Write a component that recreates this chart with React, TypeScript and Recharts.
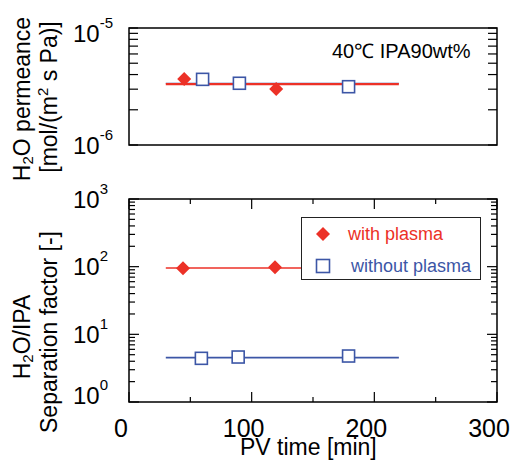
import { ComposedChart, Line, Scatter, XAxis, YAxis, ReferenceArea, Legend } from 'recharts'

const FONT = '"Liberation Sans", Arial, Helvetica, sans-serif'
const RED = '#ec3127'
const BLUE = '#3c56a6'

// PV time [min]
const timeTicks = [0, 50, 100, 150, 200, 250, 300]
const timeLabels = [0, 100, 200, 300]

// y ticks (log)
const permTicks = [1e-6, 2e-6, 3e-6, 4e-6, 5e-6, 6e-6, 7e-6, 8e-6, 9e-6, 1e-5]
const sepTicks = [
  1, 2, 3, 4, 5, 6, 7, 8, 9, 10, 20, 30, 40, 50, 60, 70, 80, 90, 100, 200, 300, 400, 500, 600,
  700, 800, 900, 1000,
]

// H2O permeance [mol/(m2 s Pa)]
const permWithPlasma = [
  { t: 45, v: 3.66e-6 },
  { t: 120, v: 3.01e-6 },
]
const permWithoutPlasma = [
  { t: 60, v: 3.64e-6 },
  { t: 90, v: 3.37e-6 },
  { t: 179, v: 3.15e-6 },
]
const permFitWith = [
  { t: 30, v: 3.32e-6 },
  { t: 220, v: 3.32e-6 },
]
const permFitWithout = [
  { t: 30, v: 3.37e-6 },
  { t: 220, v: 3.37e-6 },
]

// H2O/IPA separation factor [-]
const sepWithPlasma = [
  { t: 44, v: 94.5 },
  { t: 119, v: 98 },
]
const sepWithoutPlasma = [
  { t: 59, v: 4.42 },
  { t: 89, v: 4.62 },
  { t: 179, v: 4.78 },
]
const sepFitWith = [
  { t: 30, v: 95.5 },
  { t: 220, v: 95.5 },
]
const sepFitWithout = [
  { t: 30, v: 4.52 },
  { t: 220, v: 4.52 },
]

const legendItems = [
  { name: 'with plasma', color: RED, marker: 'diamond' },
  { name: 'without plasma', color: BLUE, marker: 'square' },
]

const W = 513
const H = 461
const PLOT_LEFT = 129
const PLOT_RIGHT = 497
const TOP_PANEL = { top: 28, bottom: 145 }
const BOTTOM_PANEL = { top: 199, bottom: 402 }

function Diamond({ cx, cy, fill }: any) {
  const r = 7
  return <path d={`M${cx},${cy - r}L${cx + r},${cy}L${cx},${cy + r}L${cx - r},${cy}Z`} fill={fill} />
}

function Square({ cx, cy, stroke }: any) {
  const s = 6
  return (
    <rect x={cx - s} y={cy - s} width={2 * s} height={2 * s} fill="#fff" stroke={stroke} strokeWidth={1.6} />
  )
}

function TimeTick({ x, payload, panel, showLabel }: any) {
  const major = payload.value % 100 === 0
  const len = major ? 10 : 5
  return (
    <g>
      <line x1={x} x2={x} y1={panel.bottom} y2={panel.bottom - len} stroke="#000" strokeWidth={1.2} />
      <line x1={x} x2={x} y1={panel.top} y2={panel.top + len} stroke="#000" strokeWidth={1.2} />
      {showLabel && timeLabels.includes(payload.value) && (
        <text x={x - 8} y={437} textAnchor="middle" fontSize={25} fontFamily={FONT} fill="#000">
          {payload.value}
        </text>
      )}
    </g>
  )
}

function LogTick({ y, payload, majorLen, minorLen, nudge }: any) {
  const lg = Math.log10(payload.value)
  const exp = Math.round(lg)
  const major = Math.abs(lg - exp) < 1e-6
  const len = major ? majorLen : minorLen
  const dy = nudge[exp] ?? 0
  return (
    <g>
      <line x1={PLOT_LEFT} x2={PLOT_LEFT + len} y1={y} y2={y} stroke="#000" strokeWidth={1.2} />
      <line x1={PLOT_RIGHT} x2={PLOT_RIGHT - len} y1={y} y2={y} stroke="#000" strokeWidth={1.2} />
      {major && (
        <text x={73} y={y + 8.5 + dy} fontSize={24} fontFamily={FONT} fill="#000">
          <tspan>10</tspan>
          <tspan dy={-14} fontSize={15}>
            {String(exp)}
          </tspan>
        </text>
      )}
    </g>
  )
}

function LegendBox() {
  return (
    <div
      style={{
        width: 180,
        height: 63,
        boxSizing: 'border-box',
        border: '1.5px solid #222',
        background: '#fff',
        fontFamily: FONT,
        fontSize: 18,
        position: 'relative',
      }}
    >
      {legendItems.map((it, i) => (
        <div
          key={it.name}
          style={{ position: 'absolute', left: 0, top: i === 0 ? 4 : 36, height: 24, display: 'flex', alignItems: 'center' }}
        >
          <svg width={16} height={16} style={{ marginLeft: 13 }}>
            {it.marker === 'diamond' ? (
              <Diamond cx={8} cy={8} fill={it.color} />
            ) : (
              <rect x={1.5} y={1.5} width={13} height={13} fill="#fff" stroke={it.color} strokeWidth={1.6} />
            )}
          </svg>
          <span style={{ color: it.color, marginLeft: i === 0 ? 17 : 20, whiteSpace: 'nowrap' }}>{it.name}</span>
        </div>
      ))}
    </div>
  )
}

const titleStyle = { fontSize: 23, fontFamily: FONT, fill: '#000' }

export default function App() {
  return (
    <div style={{ position: 'absolute', left: 0, top: 0, width: W, height: H, background: '#fff' }}>
      <div style={{ position: 'absolute', left: 0, top: 0 }}>
        <ComposedChart
          width={W}
          height={H}
          margin={{ top: TOP_PANEL.top, right: W - PLOT_RIGHT, bottom: H - TOP_PANEL.bottom, left: 0 }}
        >
          <XAxis
            dataKey="t"
            type="number"
            domain={[0, 300]}
            ticks={timeTicks}
            interval={0}
            allowDataOverflow
            height={0}
            axisLine={false}
            tickLine={false}
            tick={(p: any) => <TimeTick {...p} panel={TOP_PANEL} showLabel={false} />}
          />
          <YAxis
            type="number"
            scale="log"
            domain={[1e-6, 1e-5]}
            ticks={permTicks}
            interval={0}
            allowDataOverflow
            width={PLOT_LEFT}
            axisLine={false}
            tickLine={false}
            tick={(p: any) => <LogTick {...p} majorLen={9} minorLen={9} nudge={{ [-5]: 5 }} />}
          />
          <ReferenceArea x1={0} x2={300} y1={1e-6} y2={1e-5} fill="none" stroke="#000" strokeWidth={1.5} ifOverflow="visible" />
          <Line data={permFitWithout} dataKey="v" stroke={BLUE} strokeWidth={1.2} dot={false} activeDot={false} isAnimationActive={false} />
          <Scatter data={permWithoutPlasma} dataKey="v" shape={(p: any) => <Square {...p} stroke={BLUE} />} isAnimationActive={false} />
          <Line data={permFitWith} dataKey="v" stroke={RED} strokeWidth={2.2} dot={false} activeDot={false} isAnimationActive={false} />
          <Scatter data={permWithPlasma} dataKey="v" shape={(p: any) => <Diamond {...p} fill={RED} />} isAnimationActive={false} />
          <text x={332} y={58} fontSize={20} fontFamily={FONT} fill="#000">
            40℃ IPA90wt%
          </text>
          <text transform="rotate(-90 30 99)" x={30} y={99} textAnchor="middle" style={titleStyle}>
            H<tspan fontSize={15} dy={3}>2</tspan>
            <tspan dy={-3}>O permeance</tspan>
          </text>
          <text transform="rotate(-90 57 97)" x={57} y={97} textAnchor="middle" style={titleStyle}>
            [mol/(m<tspan fontSize={15} dy={-9}>2</tspan>
            <tspan dy={9}> s Pa)]</tspan>
          </text>
        </ComposedChart>
      </div>
      <div style={{ position: 'absolute', left: 0, top: 0 }}>
        <ComposedChart
          width={W}
          height={H}
          margin={{ top: BOTTOM_PANEL.top, right: W - PLOT_RIGHT, bottom: 0, left: 0 }}
        >
          <XAxis
            dataKey="t"
            type="number"
            domain={[0, 300]}
            ticks={timeTicks}
            interval={0}
            allowDataOverflow
            height={H - BOTTOM_PANEL.bottom}
            axisLine={false}
            tickLine={false}
            tick={(p: any) => <TimeTick {...p} panel={BOTTOM_PANEL} showLabel />}
          />
          <YAxis
            type="number"
            scale="log"
            domain={[1, 1000]}
            ticks={sepTicks}
            interval={0}
            allowDataOverflow
            width={PLOT_LEFT}
            axisLine={false}
            tickLine={false}
            tick={(p: any) => <LogTick {...p} majorLen={10} minorLen={6} nudge={{ 0: -7 }} />}
          />
          <ReferenceArea x1={0} x2={300} y1={1} y2={1000} fill="none" stroke="#000" strokeWidth={1.5} ifOverflow="visible" />
          <Line data={sepFitWith} dataKey="v" stroke={RED} strokeWidth={1.6} dot={false} activeDot={false} isAnimationActive={false} />
          <Line data={sepFitWithout} dataKey="v" stroke={BLUE} strokeWidth={1.6} dot={false} activeDot={false} isAnimationActive={false} />
          <Scatter data={sepWithoutPlasma} dataKey="v" shape={(p: any) => <Square {...p} stroke={BLUE} />} isAnimationActive={false} />
          <Scatter data={sepWithPlasma} dataKey="v" shape={(p: any) => <Diamond {...p} fill={RED} />} isAnimationActive={false} />
          <Legend
            verticalAlign="middle"
            align="center"
            layout="horizontal"
            wrapperStyle={{ left: 301, top: 217, width: 180, height: 63 }}
            content={() => <LegendBox />}
          />
          <text x={240} y={455} style={titleStyle}>
            PV time [min]
          </text>
          <text transform="rotate(-90 30 337)" x={30} y={337} textAnchor="middle" style={titleStyle}>
            H<tspan fontSize={15} dy={3}>2</tspan>
            <tspan dy={-3}>O/IPA</tspan>
          </text>
          <text transform="rotate(-90 57 332)" x={57} y={332} textAnchor="middle" style={titleStyle}>
            Separation factor [-]
          </text>
        </ComposedChart>
      </div>
    </div>
  )
}
